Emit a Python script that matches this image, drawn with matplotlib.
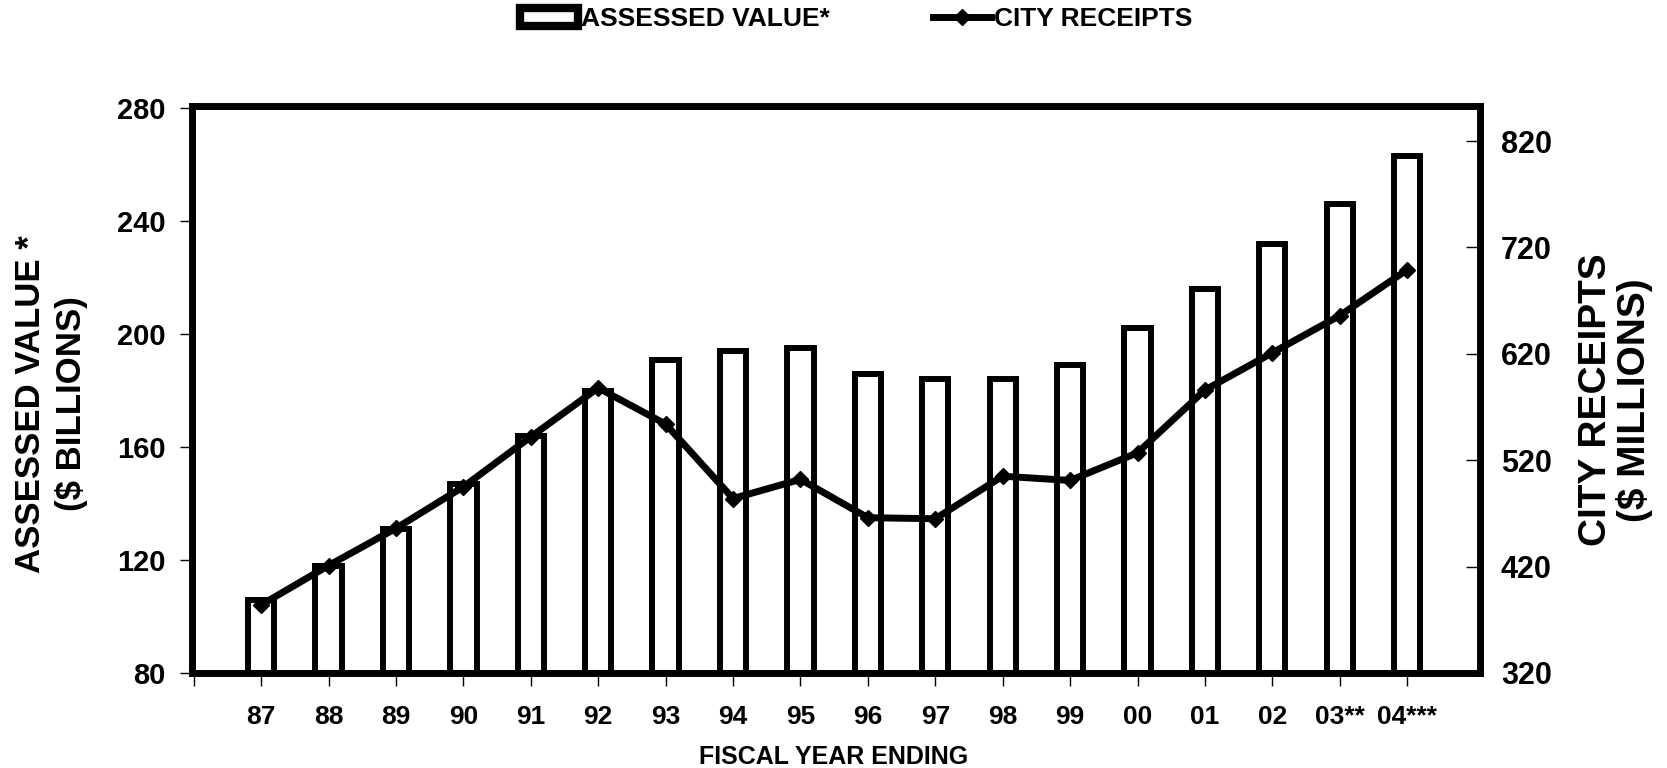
import matplotlib
matplotlib.use("Agg")
import matplotlib.pyplot as plt
from matplotlib.patches import Patch
from matplotlib.lines import Line2D

FONT = "Liberation Sans"

years = ["87", "88", "89", "90", "91", "92", "93", "94", "95", "96", "97",
         "98", "99", "00", "01", "02", "03**", "04***"]
assessed_value = [106, 118, 131, 147, 164, 180, 191, 194, 195, 186, 184,
                  184, 189, 202, 216, 232, 246, 263]
city_receipts = [384, 421, 456, 495, 542, 588, 554, 484, 502, 466, 465,
                 505, 501, 527, 586, 621, 656, 699]
left_ticks = [80, 120, 160, 200, 240, 280]
right_ticks = [320, 420, 520, 620, 720, 820]

fig = plt.figure(figsize=(16.67, 7.68), dpi=100)
ax = fig.add_axes([0.1154, 0.1237, 0.8878 - 0.1154, 0.862 - 0.1237])
ax2 = ax.twinx()

x = list(range(len(years)))
ax.bar(x, [v - 80 for v in assessed_value], bottom=80, width=0.39,
       facecolor="white", edgecolor="black", linewidth=4.3, zorder=2)
ax.set_ylim(80, 280.8)
ax.set_xlim(-1.02, 18.08)

ax2.plot(x, city_receipts, color="black", linewidth=5, marker="D",
         markersize=8, markerfacecolor="black", zorder=3)
ax2.set_ylim(320, 853)

ax.set_zorder(1)
ax2.set_zorder(2)
ax2.patch.set_visible(False)

for a in (ax, ax2):
    for s in a.spines.values():
        s.set_linewidth(4.8)
        s.set_color("black")

ax.set_yticks(left_ticks)
ax.set_yticklabels([str(t) for t in left_ticks], fontsize=21,
                   fontweight="bold", family=FONT)
ax2.set_yticks(right_ticks)
ax2.set_yticklabels([str(t) for t in right_ticks], fontsize=22,
                    fontweight="bold", family=FONT)
ax.tick_params(axis="y", direction="out", length=9, width=1, pad=10)
ax2.tick_params(axis="y", direction="in", length=10, width=1, pad=15)

ax.set_xticks(x)
ax.set_xticklabels(years, fontsize=19, fontweight="bold", family=FONT)
ax.set_xticks([-1], minor=True)
ax.tick_params(axis="x", which="both", direction="out", length=9, width=1, pad=14)

fig.text(0.4999, 0.0143, "FISCAL YEAR ENDING", fontsize=18,
         fontweight="bold", family=FONT, ha="center", va="center")
fig.text(0.0306, 0.474, "ASSESSED VALUE *\n($ BILLIONS)", fontsize=25,
         fontweight="bold", family=FONT, rotation=90, ha="center",
         va="center", linespacing=1.3, multialignment="center")
fig.text(0.969, 0.479, "CITY RECEIPTS\n($ MILLIONS)", fontsize=28,
         fontweight="bold", family=FONT, rotation=90, ha="center",
         va="center", linespacing=1.05, multialignment="center")

handles = [Patch(facecolor="white", edgecolor="black", linewidth=6),
           Line2D([0], [0], color="black", linewidth=5, marker="D",
                  markersize=8)]
fig.legend(handles, ["ASSESSED VALUE*", "CITY RECEIPTS"], loc="center",
           bbox_to_anchor=(0.5135, 0.975), ncol=2, frameon=False,
           prop={"family": FONT, "weight": "bold", "size": 19},
           handlelength=2.2, handleheight=0.65, handletextpad=0.12,
           columnspacing=3.9)

fig.savefig("out.png", dpi=100)
